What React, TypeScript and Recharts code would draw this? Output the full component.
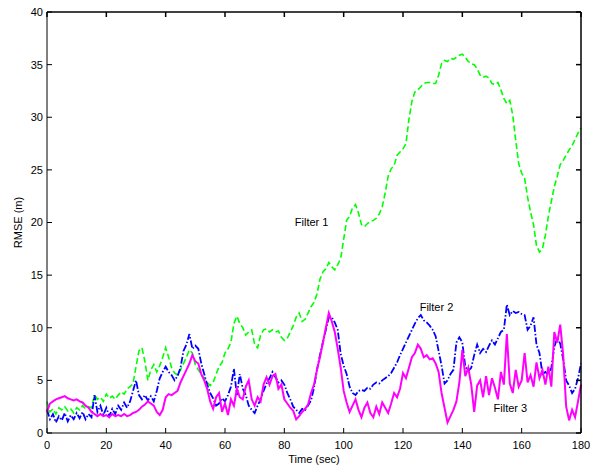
import { LineChart, Line, XAxis, YAxis, ReferenceDot, Label } from 'recharts';

// seconds 0..180, one reading per second
const filter1 = [
  3.0, 2.0, 2.3, 1.8, 2.4, 2.2, 2.5, 2.1, 2.3, 1.9,
  2.4, 2.2, 2.6, 2.3, 2.5, 2.4, 3.6, 3.2, 3.4, 3.0,
  3.7, 3.3, 3.5, 3.2, 3.6, 3.9, 3.7, 4.2, 4.4, 4.7,
  6.3, 7.8, 8.1, 6.8, 5.0, 6.0, 6.5, 5.8, 6.4, 7.2,
  8.1, 7.2, 6.2, 5.7, 5.5, 6.0, 6.6, 7.2, 7.9, 7.6,
  6.5, 6.0, 5.6, 5.2, 4.8, 4.5, 4.8, 5.6, 6.3, 6.7,
  7.6, 8.0, 8.6, 10.4, 11.1, 10.4, 10.0, 9.3, 9.6, 9.8,
  8.4, 8.1, 9.3, 9.8, 9.9, 9.6, 9.8, 9.6, 9.7, 9.1,
  8.8, 9.0, 9.6, 10.2, 11.0, 11.4, 10.6, 10.8, 11.4, 12.0,
  12.4, 13.2, 14.6, 15.3, 15.6, 16.2, 15.8, 15.5, 16.0, 16.6,
  18.4, 20.2, 20.6, 21.4, 21.7, 20.9, 19.8, 19.6, 19.9, 20.1,
  20.2, 20.4, 20.8, 21.5, 22.8, 24.4, 25.1, 25.4, 26.4, 26.7,
  27.0, 27.5, 29.8, 31.5, 32.4, 32.6, 32.9, 33.2, 33.3, 33.3,
  33.2, 33.2, 34.0, 35.1, 35.4, 35.3, 35.6, 35.5, 35.7, 35.9,
  36.0, 35.7, 35.3, 35.1, 35.0, 34.6, 34.0, 33.8, 33.9, 33.7,
  33.2, 33.1, 33.3, 32.6, 31.8, 31.3, 31.6, 30.2, 27.8, 25.6,
  24.7, 24.2, 22.4, 21.0, 19.8, 17.8, 17.2, 17.5, 18.8, 20.6,
  22.0, 23.4, 24.4, 25.5, 25.9, 26.4, 26.9, 27.3, 27.9, 28.5,
  29.0,
];

const filter2 = [
  2.2, 1.3, 1.8, 1.0, 1.6, 1.2, 1.9, 1.1, 1.7, 1.3,
  1.9, 1.4, 2.0, 1.3, 1.8, 1.5, 3.6, 2.0, 2.6, 1.7,
  2.4, 1.6, 2.3, 1.8, 2.6, 2.2, 2.9, 2.4, 3.0, 4.0,
  5.0, 3.6, 3.2, 3.6, 3.1, 3.5, 3.0, 4.0, 5.2, 5.8,
  6.3, 5.8, 5.5, 5.0, 5.4, 6.2, 7.8, 8.4, 9.4, 8.0,
  8.3, 8.0, 6.6, 5.6, 4.6, 3.8, 3.3, 2.6, 2.8, 3.3,
  3.0, 3.6, 4.4, 6.1, 3.6, 5.6, 4.2, 3.6, 2.6, 2.2,
  1.9, 2.6, 3.2, 4.0, 4.7, 5.2, 5.8, 5.3, 4.8, 5.0,
  4.6, 3.8, 3.2, 2.5, 2.2, 1.9, 2.3, 2.2, 2.6, 3.1,
  4.3, 6.0, 7.4, 8.6, 9.8, 11.0, 11.0, 10.5, 9.8, 7.5,
  6.4, 5.6, 4.4, 3.8, 3.6, 4.0, 4.1, 4.0, 4.3, 4.2,
  4.6, 4.8, 4.7, 5.0, 5.2, 5.4, 5.7, 6.2, 6.7, 7.4,
  8.0, 8.6, 9.2, 9.8, 10.4, 10.9, 11.2, 10.7, 10.5, 10.2,
  9.8, 9.2, 7.8, 6.4, 4.7, 5.0, 5.6, 6.0, 8.6, 9.1,
  8.6, 6.3, 5.9, 6.2, 7.4, 8.4, 7.6, 8.0, 7.7, 8.3,
  8.8, 8.4, 9.0, 9.6, 9.8, 12.2, 11.2, 11.6, 11.4, 11.5,
  11.3, 11.2, 9.8, 10.2, 11.0, 8.4, 7.6, 5.6, 5.8, 5.5,
  6.2, 8.2, 9.0, 8.5, 7.0, 5.0, 4.5, 3.8, 4.2, 5.2,
  6.6,
];

const filter3 = [
  2.0, 2.8, 3.0, 3.2, 3.3, 3.4, 3.5, 3.3, 3.2, 3.1,
  3.2, 3.0, 2.9, 2.6, 2.4, 2.0, 1.8, 1.6, 1.8, 1.6,
  1.7, 1.5, 1.8, 1.6, 1.7, 1.6, 1.8, 1.6, 1.7, 1.9,
  2.0, 2.2, 2.5, 2.7, 3.0, 2.8, 2.6, 2.0, 1.7, 2.2,
  3.4, 3.7, 3.6, 3.8, 4.0, 4.8, 5.4, 6.0, 6.6, 7.4,
  6.8, 6.6, 5.6, 5.0, 4.2, 3.0, 2.3, 3.4, 3.8, 2.0,
  2.8, 1.7, 3.2, 2.6, 4.2, 3.4, 3.2, 4.4, 5.0, 3.2,
  2.6, 3.4, 3.0, 4.6, 5.3, 4.6, 5.4, 5.6, 4.2, 4.6,
  3.2, 2.8, 2.4, 2.1, 1.3, 1.6, 2.0, 2.3, 2.7, 3.8,
  4.6, 6.0, 7.2, 8.6, 10.0, 11.4, 10.6, 9.6, 8.0, 6.2,
  4.0, 2.9, 2.0, 2.6, 3.2, 2.2, 1.5, 2.4, 2.9, 1.9,
  1.5, 2.5, 1.8, 2.9, 2.4, 1.9, 2.8, 3.8, 3.4, 4.2,
  5.7, 5.2, 6.2, 7.2, 7.6, 8.4, 8.0, 7.2, 7.4, 7.0,
  7.1, 6.6, 5.8, 3.8, 2.4, 1.0, 1.6, 2.2, 3.0, 4.8,
  7.9, 5.4, 6.2, 4.6, 2.0, 4.5, 5.0, 3.4, 5.4, 3.6,
  5.2, 4.3, 3.2, 5.8, 4.6, 9.4, 4.7, 3.8, 6.0, 4.4,
  5.0, 7.6, 4.8, 5.5, 4.4, 6.7, 5.2, 6.0, 4.6, 6.3,
  4.4, 9.6, 8.6, 10.3, 7.4, 2.5, 1.2, 2.2, 1.5, 3.0,
  4.6,
];

const xTicks = [0, 20, 40, 60, 80, 100, 120, 140, 160, 180];
const yTicks = [0, 5, 10, 15, 20, 25, 30, 35, 40];

// where the in-plot captions sit, in data units
const captions = [
  { text: 'Filter 1', t: 89.2, v: 20 },
  { text: 'Filter 2', t: 131.3, v: 12 },
  { text: 'Filter 3', t: 156.2, v: 2.4 },
];

const data = filter1.map((v, i) => ({ t: i, f1: v, f2: filter2[i], f3: filter3[i] }));

const W = 596, H = 471;
const M = { top: 12, right: 15, left: 0, bottom: 0 };
const Y_AXIS_W = 47, X_AXIS_H = 38;
// plot box, derived from the layout above
const box = { l: M.left + Y_AXIS_W, t: M.top, r: W - M.right, b: H - M.bottom - X_AXIS_H };
const X_MAX = 180, Y_MAX = 40;

const font = { fontSize: 11, fill: '#000', fontFamily: '"Liberation Sans", Arial, sans-serif' };

// top and right edges of the MATLAB-style box, with inward ticks
function BoxEdges() {
  const px = (t: number) => box.l + (t / X_MAX) * (box.r - box.l);
  const py = (v: number) => box.b - (v / Y_MAX) * (box.b - box.t);
  return (
    <svg width={W} height={H} style={{ position: 'absolute', left: 0, top: 0, pointerEvents: 'none', zIndex: 2 }}>
      <g stroke="#000" strokeWidth={1.5} fill="none">
        <line x1={box.l} y1={box.t} x2={box.r} y2={box.t} />
        <line x1={box.r} y1={box.t} x2={box.r} y2={box.b} />
        {xTicks.map(t => <line key={'x' + t} x1={px(t)} y1={box.t} x2={px(t)} y2={box.t + 5} />)}
        {yTicks.map(v => <line key={'y' + v} x1={box.r} y1={py(v)} x2={box.r - 5} y2={py(v)} />)}
      </g>
    </svg>
  );
}

export default function App() {
  return (
    <div style={{ position: 'absolute', left: 0, top: 0, width: W, height: H, background: '#fff' }}>
      <LineChart width={W} height={H} data={data} margin={M}>
        <XAxis dataKey="t" type="number" domain={[0, X_MAX]} ticks={xTicks} height={X_AXIS_H}
          tick={font} tickSize={-5} tickMargin={13} stroke="#000" interval={0}>
          <Label value="Time (sec)" position="insideBottom" offset={8} style={font} />
        </XAxis>
        <YAxis type="number" domain={[0, Y_MAX]} ticks={yTicks} width={Y_AXIS_W} tick={font}
          tickSize={-5} tickMargin={9} stroke="#000" interval={0}>
          <Label value="RMSE (m)" angle={-90} position="center" dx={-5} style={font} />
        </YAxis>
        <Line dataKey="f1" stroke="#00ff00" strokeWidth={1.6} strokeDasharray="6 3" dot={false} isAnimationActive={false} />
        <Line dataKey="f2" stroke="#0000ff" strokeWidth={1.8} strokeDasharray="7 2 1.5 2" dot={false} isAnimationActive={false} />
        <Line dataKey="f3" stroke="#ff00ff" strokeWidth={2} dot={false} isAnimationActive={false} />
        {captions.map(c => (
          <ReferenceDot key={c.text} x={c.t} y={c.v} r={0} stroke="none" fill="none"
            label={{ value: c.text, position: 'center', ...font }} />
        ))}
      </LineChart>
      <BoxEdges />
    </div>
  );
}
